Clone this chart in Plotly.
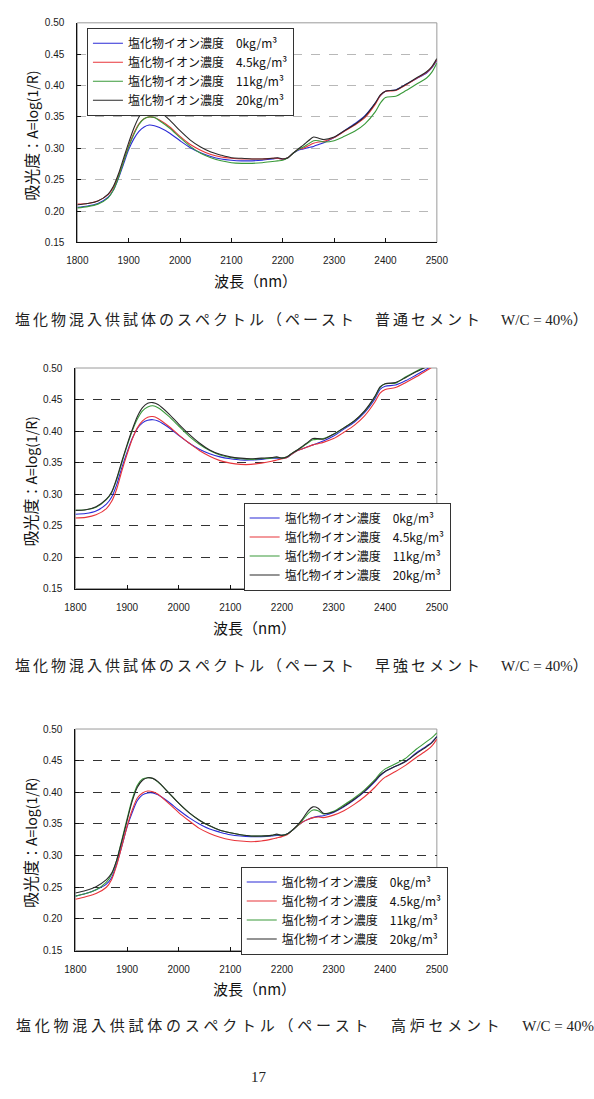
import plotly.graph_objects as go

W, H = 594, 1099

wavelength = [1800, 1820, 1840, 1860, 1870, 1880, 1890, 1900, 1910, 1920, 1930, 1940,
              1950, 1960, 1980, 2000, 2020, 2040, 2060, 2080, 2100, 2120, 2140, 2160,
              2180, 2190, 2200, 2210, 2220, 2230, 2240, 2250, 2260, 2270, 2280, 2300,
              2320, 2340, 2360, 2380, 2390, 2400, 2420, 2440, 2460, 2480, 2490, 2500]

series_names = ["塩化物イオン濃度\u20030kg/m³", "塩化物イオン濃度\u20034.5kg/m³",
                "塩化物イオン濃度\u200311kg/m³", "塩化物イオン濃度\u200320kg/m³"]
series_colors = ["#2b2bd6", "#e8343a", "#3a9a3a", "#2a2a2a"]

# Chart 1: 普通セメント
opc_0 = [0.206, 0.208, 0.212, 0.222, 0.233, 0.252, 0.275, 0.298, 0.315, 0.327, 0.334, 0.337,
         0.336, 0.333, 0.324, 0.312, 0.301, 0.293, 0.287, 0.283, 0.281, 0.280, 0.280, 0.281,
         0.283, 0.284, 0.283, 0.285, 0.292, 0.297, 0.299, 0.301, 0.303, 0.306, 0.309, 0.317,
         0.328, 0.339, 0.352, 0.372, 0.384, 0.391, 0.393, 0.402, 0.411, 0.420, 0.428, 0.440]
opc_45 = [0.211, 0.212, 0.216, 0.226, 0.237, 0.256, 0.280, 0.304, 0.324, 0.339, 0.347, 0.350,
          0.349, 0.345, 0.334, 0.319, 0.306, 0.297, 0.290, 0.286, 0.284, 0.283, 0.283, 0.283,
          0.284, 0.284, 0.283, 0.285, 0.292, 0.298, 0.300, 0.304, 0.308, 0.310, 0.311, 0.317,
          0.327, 0.337, 0.349, 0.370, 0.384, 0.391, 0.392, 0.401, 0.411, 0.421, 0.429, 0.441]
opc_11 = [0.205, 0.207, 0.211, 0.221, 0.233, 0.253, 0.278, 0.302, 0.322, 0.338, 0.347, 0.350,
          0.349, 0.344, 0.332, 0.317, 0.303, 0.292, 0.285, 0.280, 0.277, 0.276, 0.276, 0.277,
          0.279, 0.280, 0.281, 0.285, 0.292, 0.298, 0.302, 0.307, 0.312, 0.312, 0.310, 0.312,
          0.319, 0.327, 0.339, 0.358, 0.372, 0.381, 0.383, 0.392, 0.402, 0.412, 0.421, 0.436]
opc_20 = [0.210, 0.212, 0.216, 0.227, 0.239, 0.259, 0.284, 0.309, 0.332, 0.350, 0.361, 0.365,
          0.364, 0.359, 0.345, 0.328, 0.313, 0.302, 0.294, 0.289, 0.285, 0.284, 0.283, 0.283,
          0.284, 0.285, 0.283, 0.285, 0.292, 0.299, 0.305, 0.312, 0.318, 0.316, 0.314, 0.318,
          0.328, 0.338, 0.351, 0.372, 0.385, 0.391, 0.393, 0.402, 0.412, 0.422, 0.430, 0.443]

# Chart 2: 早強セメント
hes_0 = [0.268, 0.269, 0.273, 0.284, 0.295, 0.315, 0.342, 0.366, 0.388, 0.404, 0.413, 0.417,
         0.418, 0.416, 0.406, 0.393, 0.381, 0.371, 0.364, 0.359, 0.356, 0.354, 0.354, 0.355,
         0.357, 0.357, 0.357, 0.358, 0.364, 0.369, 0.372, 0.375, 0.378, 0.381, 0.384, 0.392,
         0.403, 0.414, 0.429, 0.451, 0.466, 0.471, 0.473, 0.480, 0.489, 0.498, 0.503, 0.508]
hes_45 = [0.262, 0.263, 0.267, 0.277, 0.288, 0.308, 0.337, 0.363, 0.387, 0.405, 0.416, 0.422,
          0.423, 0.420, 0.408, 0.394, 0.381, 0.369, 0.360, 0.353, 0.349, 0.347, 0.347, 0.349,
          0.352, 0.354, 0.356, 0.358, 0.364, 0.369, 0.372, 0.375, 0.378, 0.380, 0.382, 0.388,
          0.398, 0.409, 0.424, 0.446, 0.460, 0.466, 0.469, 0.477, 0.486, 0.496, 0.501, 0.506]
hes_11 = [0.274, 0.275, 0.279, 0.291, 0.302, 0.323, 0.350, 0.376, 0.400, 0.419, 0.432, 0.438,
          0.440, 0.437, 0.424, 0.408, 0.392, 0.379, 0.369, 0.362, 0.358, 0.356, 0.355, 0.356,
          0.357, 0.358, 0.357, 0.359, 0.365, 0.370, 0.375, 0.381, 0.386, 0.387, 0.388, 0.395,
          0.405, 0.416, 0.431, 0.454, 0.469, 0.475, 0.476, 0.486, 0.495, 0.503, 0.508, 0.512]
hes_20 = [0.274, 0.275, 0.280, 0.292, 0.303, 0.325, 0.352, 0.378, 0.402, 0.423, 0.437, 0.444,
          0.445, 0.442, 0.428, 0.411, 0.395, 0.381, 0.370, 0.363, 0.359, 0.357, 0.356, 0.357,
          0.358, 0.359, 0.357, 0.359, 0.365, 0.370, 0.376, 0.382, 0.388, 0.388, 0.387, 0.395,
          0.405, 0.416, 0.432, 0.455, 0.470, 0.475, 0.477, 0.485, 0.494, 0.502, 0.507, 0.512]

# Chart 3: 高炉セメント
bfs_0 = [0.236, 0.240, 0.246, 0.255, 0.265, 0.287, 0.315, 0.345, 0.368, 0.387, 0.396, 0.399,
         0.399, 0.396, 0.385, 0.372, 0.360, 0.350, 0.342, 0.337, 0.333, 0.331, 0.330, 0.330,
         0.331, 0.332, 0.332, 0.334, 0.340, 0.347, 0.353, 0.357, 0.360, 0.362, 0.363, 0.368,
         0.377, 0.388, 0.401, 0.417, 0.426, 0.433, 0.441, 0.449, 0.462, 0.473, 0.479, 0.488]
bfs_45 = [0.231, 0.235, 0.240, 0.250, 0.262, 0.285, 0.315, 0.346, 0.372, 0.391, 0.399, 0.402,
          0.401, 0.397, 0.383, 0.368, 0.355, 0.343, 0.335, 0.329, 0.325, 0.323, 0.322, 0.323,
          0.326, 0.328, 0.330, 0.333, 0.340, 0.347, 0.353, 0.357, 0.360, 0.361, 0.360, 0.364,
          0.371, 0.381, 0.393, 0.408, 0.417, 0.424, 0.433, 0.443, 0.455, 0.466, 0.473, 0.484]
bfs_11 = [0.236, 0.240, 0.246, 0.258, 0.270, 0.293, 0.325, 0.358, 0.389, 0.411, 0.421, 0.423,
          0.422, 0.416, 0.400, 0.383, 0.368, 0.356, 0.347, 0.340, 0.336, 0.333, 0.331, 0.331,
          0.332, 0.333, 0.332, 0.334, 0.340, 0.347, 0.356, 0.366, 0.372, 0.371, 0.366, 0.370,
          0.380, 0.391, 0.404, 0.420, 0.430, 0.437, 0.445, 0.454, 0.468, 0.480, 0.486, 0.494]
bfs_20 = [0.241, 0.245, 0.251, 0.262, 0.272, 0.293, 0.323, 0.355, 0.386, 0.408, 0.419, 0.423,
          0.422, 0.417, 0.400, 0.383, 0.368, 0.356, 0.347, 0.340, 0.336, 0.333, 0.331, 0.331,
          0.332, 0.334, 0.332, 0.334, 0.340, 0.348, 0.358, 0.370, 0.377, 0.375, 0.367, 0.369,
          0.378, 0.389, 0.402, 0.418, 0.427, 0.433, 0.441, 0.449, 0.461, 0.472, 0.478, 0.488]

x_ticks = [1800, 1900, 2000, 2100, 2200, 2300, 2400, 2500]
y_ticks = [0.15, 0.20, 0.25, 0.30, 0.35, 0.40, 0.45, 0.50]

captions = [
    ("塩化物混入供試体のスペクトル（ペースト　普通セメント　", "W/C = 40%）"),
    ("塩化物混入供試体のスペクトル（ペースト　早強セメント　", "W/C = 40%）"),
    ("塩化物混入供試体のスペクトル（ペースト　高炉セメント　", "W/C = 40%"),
]
page_number = "17"

charts = [
    dict(data=[opc_0, opc_45, opc_11, opc_20], px=(69, 443), py=(17, 239),
         legend=dict(x=79, y=22), grid="#b8b8b8", cap_x=302.5, cap_y=317, title_y=278,
         sp="\u2009"),
    dict(data=[hes_0, hes_45, hes_11, hes_20], px=(67, 443), py=(366, 589),
         legend=dict(x=242, y=502), grid="#333333", cap_x=302.5, cap_y=667, title_y=628,
         sp="\u2009"),
    dict(data=[bfs_0, bfs_45, bfs_11, bfs_20], px=(67, 443), py=(731, 955),
         legend=dict(x=239, y=870), grid="#333333", cap_x=305.5, cap_y=1031, title_y=993,
         sp="\u2005"),
]

fig = go.Figure()
layout = dict(width=W, height=H, autosize=False, margin=dict(l=0, r=0, t=0, b=0),
              paper_bgcolor="white", plot_bgcolor="white", showlegend=True)
annotations = []
shapes = []
tickfont = dict(family="Liberation Sans, Arial", size=10, color="#1a1a1a")

for i, ch in enumerate(charts):
    n = "" if i == 0 else str(i + 1)
    xa, ya = "x" + n, "y" + n
    lg = "legend" + n
    for name, color, vals in zip(series_names, series_colors, ch["data"]):
        fig.add_trace(go.Scatter(x=wavelength, y=vals, mode="lines", name=name,
                                 line=dict(color=color, width=1.1, shape="spline", smoothing=0.8),
                                 xaxis=xa, yaxis=ya, legend=lg))
    x0, x1 = ch["px"]
    y0, y1 = ch["py"]
    layout["xaxis" + n] = dict(domain=[x0 / W, x1 / W], anchor=ya, range=[1800, 2500],
                               tickvals=x_ticks, showgrid=False, zeroline=False,
                               showline=True, linecolor="#111111", linewidth=1,
                               ticks="inside", ticklen=4, tickcolor="#111111",
                               tickfont=tickfont, ticklabelstandoff=9)
    layout["yaxis" + n] = dict(domain=[1 - y1 / H, 1 - y0 / H], anchor=xa, range=[0.15, 0.50],
                               tickvals=y_ticks, tickformat=".2f", showgrid=True,
                               gridcolor=ch["grid"], griddash="dash", gridwidth=1,
                               zeroline=False, showline=True, linecolor="#111111", linewidth=1,
                               ticks="inside", ticklen=4, tickcolor="#111111",
                               tickfont=tickfont, ticklabelstandoff=10)
    shapes.append(dict(type="rect", xref=xa + " domain", yref=ya + " domain",
                       x0=0, x1=1, y0=0, y1=1, line=dict(color="#9a9a9a", width=1),
                       layer="below"))
    layout[lg] = dict(x=ch["legend"]["x"] / W, y=1 - ch["legend"]["y"] / H,
                      xanchor="left", yanchor="top", bgcolor="white",
                      bordercolor="#333333", borderwidth=1,
                      font=dict(family="Noto Sans CJK JP", size=12, color="#111111"),
                      tracegroupgap=0, itemwidth=30)
    annotations.append(dict(text="<span style='font-size:16px'>吸光度</span>：A=log(1/R)",
                            x=20 / W, y=1 - ((y0 + y1) / 2 + 3) / H, xref="paper", yref="paper",
                            textangle=-90, showarrow=False, xanchor="center", yanchor="middle",
                            font=dict(family="Noto Sans CJK JP", size=14, color="#111111")))
    annotations.append(dict(text="波長（nm）", x=((x0 + x1) / 2 - 2) / W, y=1 - ch["title_y"] / H,
                            xref="paper", yref="paper", showarrow=False,
                            xanchor="center", yanchor="middle",
                            font=dict(family="Noto Sans CJK JP", size=15, color="#111111")))
    cj, lat = captions[i]
    sp = ch["sp"]
    annotations.append(dict(text=sp.join(cj) + sp + lat, x=ch["cap_x"] / W, y=1 - ch["cap_y"] / H,
                            xref="paper", yref="paper", showarrow=False,
                            xanchor="center", yanchor="middle",
                            font=dict(family="Liberation Serif, Noto Sans CJK JP", size=15,
                                      color="#222222")))

# Darker grid lines at 0.40 and 0.45 in the first chart
layout["yaxis4"] = dict(domain=layout["yaxis"]["domain"], anchor="x", overlaying="y",
                        range=[0.15, 0.50], tickvals=[0.40, 0.45], showticklabels=False,
                        showgrid=True, gridcolor="#6e6e6e", griddash="dash", zeroline=False,
                        showline=False, ticks="")

annotations.append(dict(text=page_number, x=258 / W, y=1 - 1083 / H, xref="paper", yref="paper",
                        showarrow=False, xanchor="center", yanchor="middle",
                        font=dict(family="Liberation Serif", size=15, color="#222222")))
layout["annotations"] = annotations
layout["shapes"] = shapes
fig.update_layout(**layout)
fig.write_html("out.html",
               post_script="document.body.style.margin='0';document.body.style.padding='0';")
